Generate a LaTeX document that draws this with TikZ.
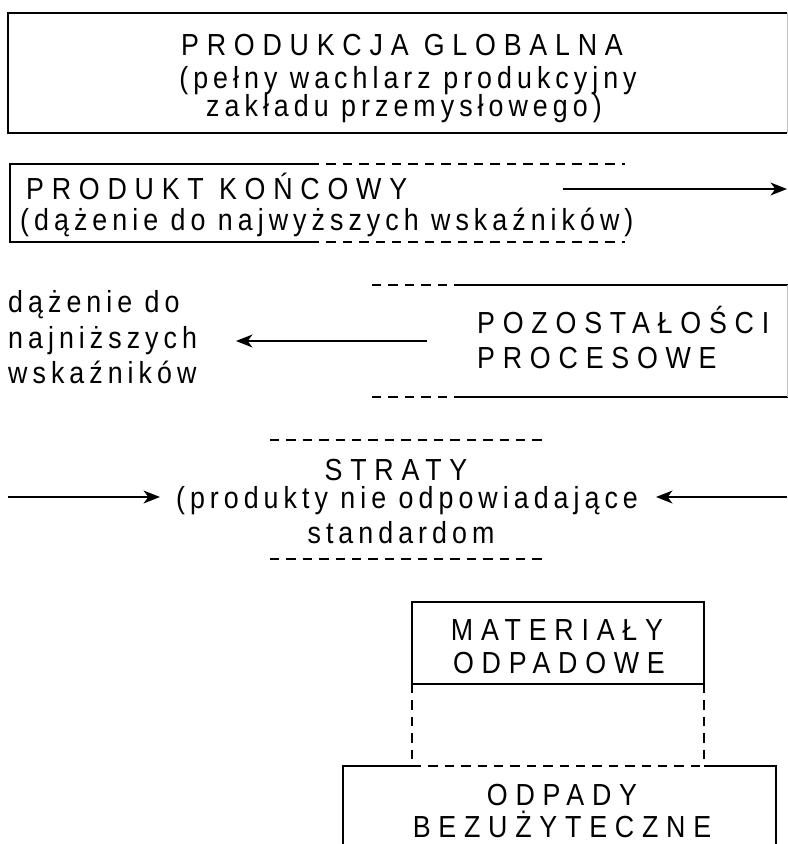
\documentclass[tikz,border=0pt]{standalone}
\usepackage{fontspec}
\setmainfont{Liberation Sans}[LetterSpace=16.5, FakeStretch=0.88]
\newfontfamily\capsfont{Liberation Sans}[LetterSpace=25.5, FakeStretch=0.88]
\usetikzlibrary{arrows.meta}

\tikzset{
  solidline/.style={line width=1.3pt},
  dashline/.style={line width=0.9pt, dash pattern=on 8pt off 6pt},
  faintline/.style={line width=0.6pt, black!25},
  caps/.style={inner sep=0pt, font=\capsfont\fontsize{26}{26}\selectfont},
  lower/.style={inner sep=0pt, font=\fontsize{26}{26}\selectfont},
  arr/.style={line width=1.3pt, -{Stealth[length=14pt,width=11pt,inset=4pt]}}
}

\begin{document}
\begin{tikzpicture}[x=0.03cm, y=-0.03cm]
\useasboundingbox (0,0) rectangle (788,844);

% produkcja globalna
\draw[solidline] (787,13) -- (8,13) -- (8,133) -- (787,133);
\draw[faintline] (787,13) -- (787,133);
\node[caps, anchor=base] (glob1) at (402,56) {PRODUKCJA GLOBALNA};
\node[lower, anchor=base] (glob2) at (408,89) {(pełny wachlarz produkcyjny};
\node[lower, anchor=base] (glob3) at (404,117) {zakładu przemysłowego)};

% produkt koncowy
\draw[solidline] (310,164) -- (10,164) -- (10,242) -- (310,242);
\draw[dashline] (310,164) -- (625,164);
\draw[dashline] (310,242) -- (625,242);
\node[caps, anchor=base west] (konc1) at (26,199) {PRODUKT KOŃCOWY};
\node[lower, anchor=base west] (konc2) at (20,230) {(dążenie do najwyższych wskaźników)};
\coordinate (koncA) at (563,189);
\coordinate (koncB) at (787,189);
\draw[arr] (koncA) -- (koncB);

% pozostalosci procesowe
\draw[dashline] (372,285) -- (455,285);
\draw[solidline] (455,285) -- (788,285);
\draw[dashline] (372,397) -- (455,397);
\draw[solidline] (455,397) -- (788,397);
\draw[faintline] (787,285) -- (787,397);
\node[caps, anchor=base west] (poz1) at (477,333) {POZOSTAŁOŚCI};
\node[caps, anchor=base west] (poz2) at (477,368) {PROCESOWE};
\node[lower, anchor=base west] (niz1) at (8,312) {dążenie do};
\node[lower, anchor=base west] (niz2) at (8,348) {najniższych};
\node[lower, anchor=base west] (niz3) at (8,383) {wskaźników};
\coordinate (pozA) at (427,341);
\coordinate (pozB) at (236,341);
\draw[arr] (pozA) -- (pozB);

% straty
\draw[dashline] (270,440) -- (545,440);
\draw[dashline] (270,559) -- (545,559);
\node[caps, anchor=base] (str1) at (396,480) {STRATY};
\node[lower, anchor=base] (str2) at (407,508) {(produkty nie odpowiadające};
\node[lower, anchor=base] (str3) at (401,543) {standardom};
\coordinate (strL) at (8,497);
\coordinate (strLB) at (160,497);
\coordinate (strR) at (787,497);
\coordinate (strRB) at (656,497);
\draw[arr] (strL) -- (strLB);
\draw[arr] (strR) -- (strRB);

% materialy odpadowe
\draw[solidline] (412,602) rectangle (704,684);
\node[caps, anchor=base] (mat1) at (557,640) {MATERIAŁY};
\node[caps, anchor=base] (mat2) at (559,673) {ODPADOWE};
\draw[dashline] (412,684) -- (412,766);
\draw[dashline] (704,684) -- (704,766);
\draw[dashline] (412,766) -- (704,766);

% odpady bezuzyteczne
\draw[solidline] (343,844) -- (343,766) -- (412,766);
\draw[solidline] (704,766) -- (776,766) -- (776,844);
\node[caps, anchor=base] (odp1) at (562,805) {ODPADY};
\node[caps, anchor=base] (odp2) at (562,837) {BEZUŻYTECZNE};
\end{tikzpicture}
\end{document}
